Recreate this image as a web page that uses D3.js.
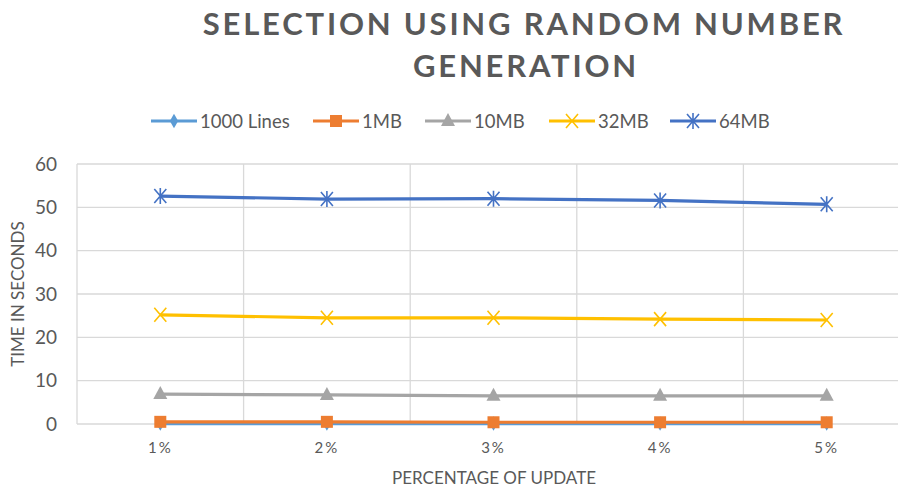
<!DOCTYPE html>
<meta charset="utf-8">
<script src="https://d3js.org/d3.v7.min.js"></script>
<style>
    body { margin: 0; background: #fff; }
    text { font-family: Lato, "Open Sans", sans-serif; fill: #595959; }
</style>
<div id="vis"></div>
<script>
    // data
    var cats = ["1%", "2%", "3%", "4%", "5%"];
    var names = ["1000 Lines", "1MB", "10MB", "32MB", "64MB"];
    var lines1000 = [0.1, 0.1, 0.1, 0.1, 0.1];
    var mb1 = [0.5, 0.5, 0.4, 0.4, 0.4];
    var mb10 = [6.9, 6.7, 6.5, 6.5, 6.5];
    var mb32 = [25.2, 24.5, 24.5, 24.2, 24.0];
    var mb64 = [52.6, 51.9, 52.0, 51.6, 50.7];
    var yTicks = [0, 10, 20, 30, 40, 50, 60];

    var series = [lines1000, mb1, mb10, mb32, mb64];
    var cols = ["#5B9BD5", "#ED7D31", "#A5A5A5", "#FFC000", "#4472C4"];
    var shapes = ["diamond", "square", "triangle", "x", "star"];

    var W = 898, H = 489;
    var mgn = { top: 164, lft: 77, rgt: 910, btm: 424 };

    var svg = d3.select("#vis").append("svg")
        .attr("width", W).attr("height", H);

    var x = d3.scaleBand().domain(cats).range([mgn.lft, mgn.rgt]);
    var y = d3.scaleLinear().domain([0, 60]).range([mgn.btm, mgn.top]);

    // gridlines
    svg.append("g").selectAll("line.h")
        .data(yTicks).enter().append("line")
        .attr("x1", mgn.lft).attr("x2", mgn.rgt)
        .attr("y1", function (d) { return y(d); })
        .attr("y2", function (d) { return y(d); })
        .attr("stroke", "#d9d9d9").attr("stroke-width", 1.3);
    svg.append("g").selectAll("line.v")
        .data(cats).enter().append("line")
        .attr("x1", function (d) { return x(d); })
        .attr("x2", function (d) { return x(d); })
        .attr("y1", mgn.top).attr("y2", mgn.btm)
        .attr("stroke", "#d9d9d9").attr("stroke-width", 1.3);

    // axes
    var yAx = svg.append("g")
        .attr("transform", "translate(" + mgn.lft + ",0)")
        .call(d3.axisLeft(y).tickValues(yTicks).tickSize(0).tickPadding(20));
    yAx.select(".domain").remove();
    yAx.selectAll("text").style("font-size", "19px").style("fill", "#595959");

    var xAx = svg.append("g")
        .attr("transform", "translate(0," + mgn.btm + ")")
        .call(d3.axisBottom(x).tickSize(0).tickPadding(18));
    xAx.select(".domain").remove();
    xAx.selectAll("text").style("font-size", "15px").style("fill", "#595959")
        .style("letter-spacing", "2px");

    // marker drawing
    function marker(g, shape, col) {
        if (shape == "diamond") {
            g.append("path").attr("d", d3.symbol(d3.symbolDiamond, 60)()).attr("fill", col);
        } else if (shape == "square") {
            g.append("rect").attr("x", -6).attr("y", -6).attr("width", 12).attr("height", 12).attr("fill", col);
        } else if (shape == "triangle") {
            g.append("path").attr("d", "M0,-8L7,5L-7,5Z").attr("fill", col);
        } else if (shape == "x") {
            g.append("path").attr("d", "M-6,-7L6,7M-6,7L6,-7").attr("stroke", col).attr("stroke-width", 1.6);
        } else {
            g.append("path").attr("d", "M-6,-7L6,7M-6,7L6,-7M0,-8L0,8").attr("stroke", col).attr("stroke-width", 1.6);
        }
    }

    var line = d3.line()
        .x(function (d, i) { return x(cats[i]) + x.bandwidth() / 2; })
        .y(function (d) { return y(d); });

    series.forEach(function (s, k) {
        svg.append("path")
            .datum(s)
            .attr("d", line)
            .attr("fill", "none")
            .attr("stroke", cols[k])
            .attr("stroke-width", 3.2);
        s.forEach(function (v, i) {
            var g = svg.append("g")
                .attr("transform", "translate(" + (x(cats[i]) + x.bandwidth() / 2) + "," + y(v) + ")");
            marker(g, shapes[k], cols[k]);
        });
    });

    // legend
    var legX = [151, 313, 425, 549, 670];
    names.forEach(function (n, k) {
        var g = svg.append("g").attr("transform", "translate(" + legX[k] + ",121)");
        g.append("line").attr("x1", 0).attr("x2", 46).attr("y1", 0).attr("y2", 0)
            .attr("stroke", cols[k]).attr("stroke-width", 3.2);
        var m = g.append("g").attr("transform", "translate(23,0)");
        marker(m, shapes[k], cols[k]);
        g.append("text").attr("x", 49).attr("y", 6.5).text(n).style("font-size", "18.5px");
    });

    // title
    svg.append("text").attr("x", 524).attr("y", 35)
        .attr("text-anchor", "middle")
        .style("font-size", "31px").style("font-weight", "bold")
        .style("letter-spacing", "2.8px").style("fill", "#595959")
        .text("SELECTION USING RANDOM NUMBER");
    svg.append("text").attr("x", 526).attr("y", 77)
        .attr("text-anchor", "middle")
        .style("font-size", "31px").style("font-weight", "bold")
        .style("letter-spacing", "2.8px").style("fill", "#595959")
        .text("GENERATION");

    // axis titles
    svg.append("text").attr("x", 494).attr("y", 484)
        .attr("text-anchor", "middle").style("font-size", "17px")
        .text("PERCENTAGE OF UPDATE");
    svg.append("text")
        .attr("transform", "translate(24,294) rotate(-90)")
        .attr("text-anchor", "middle").style("font-size", "17px")
        .text("TIME IN SECONDS");
</script>
